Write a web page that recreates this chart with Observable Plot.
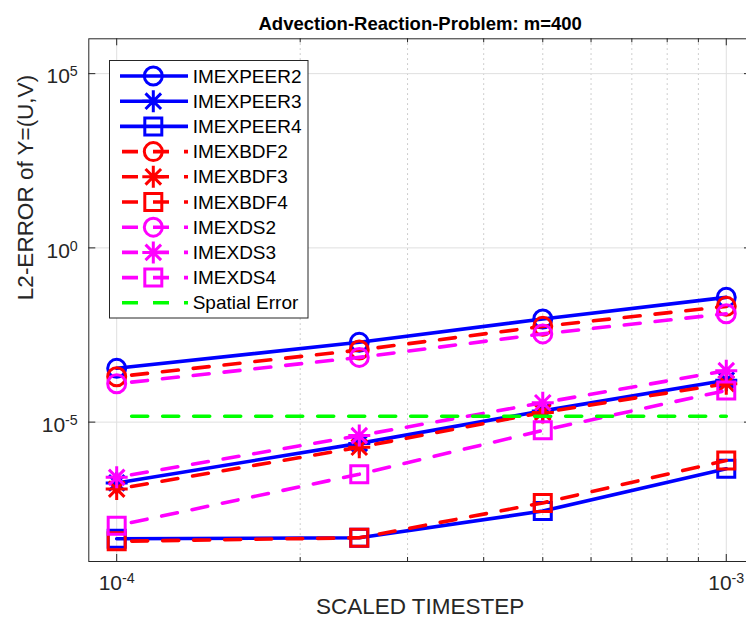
<!DOCTYPE html>
<html><head><meta charset="utf-8">
<script src="https://cdn.jsdelivr.net/npm/d3@7"></script>
<script src="https://cdn.jsdelivr.net/npm/@observablehq/plot@0.6"></script>
<style>
html,body{margin:0;padding:0;background:#fff;overflow:hidden;}
#chart{width:746px;height:628px;overflow:hidden;position:relative;}
#chart svg{overflow:hidden;}
</style></head><body><div id="chart"></div>
<script>
// ---- data ----
const timesteps = [1e-4, 2.5e-4, 5e-4, 1e-3];
const imexpeer2 = [3.5e-4, 1.95e-3, 9.1e-3, 3.8e-2];
const imexpeer3 = [1.8e-7, 2.45e-6, 2.1e-5, 1.6e-4];
const imexpeer4 = [4.5e-9, 4.8e-9, 2.8e-8, 4.6e-7];
const imexbdf2 = [2.0e-4, 1.17e-3, 5.6e-3, 2.1e-2];
const imexbdf3 = [1.2e-7, 1.9e-6, 1.9e-5, 1.26e-4];
const imexbdf4 = [3.8e-9, 4.8e-9, 4.8e-8, 7.9e-7];
const imexds2 = [1.26e-4, 7.2e-4, 3.4e-3, 1.29e-2];
const imexds3 = [2.6e-7, 4.1e-6, 3.6e-5, 3.0e-4];
const imexds4 = [1.07e-8, 3.2e-7, 5.8e-6, 8.1e-5];
const spatialError = 1.48e-5;
const seriesNames = ["IMEXPEER2","IMEXPEER3","IMEXPEER4","IMEXBDF2","IMEXBDF3","IMEXBDF4","IMEXDS2","IMEXDS3","IMEXDS4","Spatial Error"];
const xTickValues = [1e-4, 1e-3];
const xMinorTickValues = [2e-4, 3e-4, 4e-4, 5e-4, 6e-4, 7e-4, 8e-4, 9e-4];
const yTickValues = [1e-5, 1e0, 1e5];
const titleText = "Advection-Reaction-Problem: m=400";
const xLabelText = "SCALED TIMESTEP";
const yLabelText = "L2-ERROR of Y=(U,V)";
const xDomain = [9e-5, 1.1e-3];
const yDomain = [1e-9, 1e6];

// ---- styles ----
const square = {draw(ctx, size){const r=Math.sqrt(size/Math.PI), s=r*0.85; ctx.moveTo(-s,-s); ctx.lineTo(s,-s); ctx.lineTo(s,s); ctx.lineTo(-s,s); ctx.closePath();}};
const star = {draw(ctx, size){const r=Math.sqrt(size/Math.PI), d=r*0.7071; ctx.moveTo(-r,0); ctx.lineTo(r,0); ctx.moveTo(0,-r); ctx.lineTo(0,r); ctx.moveTo(-d,-d); ctx.lineTo(d,d); ctx.moveTo(-d,d); ctx.lineTo(d,-d);}};
const markerDefs = {circle: {symbol: "circle", r: 9}, star: {symbol: star, r: 11}, square: {symbol: square, r: 10}};
const BLUE="#0000ff", RED="#ff0000", MAG="#ff00ff", GREEN="#00ff00";
const seriesValues = [imexpeer2, imexpeer3, imexpeer4, imexbdf2, imexbdf3, imexbdf4, imexds2, imexds3, imexds4];
const seriesStyles = [
  {color: BLUE, dashed: false, marker: "circle"},
  {color: BLUE, dashed: false, marker: "star"},
  {color: BLUE, dashed: false, marker: "square"},
  {color: RED, dashed: true, marker: "circle"},
  {color: RED, dashed: true, marker: "star"},
  {color: RED, dashed: true, marker: "square"},
  {color: MAG, dashed: true, marker: "circle"},
  {color: MAG, dashed: true, marker: "star"},
  {color: MAG, dashed: true, marker: "square"},
  {color: GREEN, dashed: true, marker: null}
];
const DASH = "16,15";
const LW = 3.6;

const W = 746, H = 628;
const mL = 88.3, mT = 38.3, mB = 67, mR = -5;
const fh = H - mT - mB, fw = W - mL - mR;
const AX = "#262626";

const marks = [];
// grid
marks.push(Plot.ruleX(xMinorTickValues, {stroke: "#b8b8b8", strokeWidth: 0.9, strokeDasharray: "1.5,3.5"}));
marks.push(Plot.ruleX(xTickValues, {stroke: "#dfdfdf", strokeWidth: 1}));
marks.push(Plot.ruleY(yTickValues, {stroke: "#dfdfdf", strokeWidth: 1}));
// series
seriesValues.forEach((vals, i) => {
  const st = seriesStyles[i];
  const rows = timesteps.map((t, j) => ({x: t, y: vals[j]}));
  marks.push(Plot.line(rows, {x: "x", y: "y", stroke: st.color, strokeWidth: LW, strokeDasharray: st.dashed ? DASH : null, strokeDashoffset: st.dashed ? 16 : null}));
  const md = markerDefs[st.marker];
  marks.push(Plot.dot(rows, {x: "x", y: "y", symbol: md.symbol, r: md.r, stroke: st.color, strokeWidth: 3, fill: "none"}));
});
const spatialRows = [{x: timesteps[0], y: spatialError}, {x: timesteps[timesteps.length-1], y: spatialError}];
marks.push(Plot.line(spatialRows, {x: "x", y: "y", stroke: GREEN, strokeWidth: LW, strokeDasharray: DASH, strokeDashoffset: 16}));
// frame + ticks
marks.push(Plot.frame({stroke: AX, strokeWidth: 1}));
marks.push(Plot.ruleX(xTickValues, {stroke: AX, insetTop: fh - 7}));
marks.push(Plot.ruleX(xTickValues, {stroke: AX, insetBottom: fh - 7}));
marks.push(Plot.ruleX(xMinorTickValues, {stroke: AX, insetTop: fh - 4}));
marks.push(Plot.ruleX(xMinorTickValues, {stroke: AX, insetBottom: fh - 4}));
marks.push(Plot.ruleY(yTickValues, {stroke: AX, insetRight: fw - 7}));
marks.push(Plot.ruleY(yTickValues, {stroke: AX, insetLeft: fw - 7}));
// tick labels
const expLabel = d => "10^" + Math.round(Math.log10(d));
marks.push(Plot.text(xTickValues, {x: d => d, frameAnchor: "bottom", text: expLabel, dy: 28, fontSize: 21, fill: AX, textAnchor: "middle"}));
marks.push(Plot.text(yTickValues, {y: d => d, frameAnchor: "left", text: expLabel, dx: -11, dy: 3, fontSize: 21, fill: AX, textAnchor: "end"}));
// axis labels and title
marks.push(Plot.text([xLabelText], {frameAnchor: "bottom", text: d => d, dy: 52.5, fontSize: 22.5, fill: AX}));
marks.push(Plot.text([yLabelText], {frameAnchor: "left", text: d => d, dx: -63.3, rotate: -90, fontSize: 22.5, fill: AX}));
marks.push(Plot.text([titleText], {frameAnchor: "top", text: d => d, dy: -22, fontSize: 18.5, fontWeight: "bold", fill: "#000"}));

const chart = Plot.plot({
  width: W, height: H,
  marginLeft: mL, marginTop: mT, marginBottom: mB, marginRight: mR,
  x: {type: "log", domain: xDomain, axis: null},
  y: {type: "log", domain: yDomain, axis: null},
  style: {fontFamily: "'Liberation Sans', Arial, Helvetica, sans-serif", background: "white", overflow: "hidden", color: AX},
  marks
});
document.getElementById("chart").appendChild(chart);

// superscript exponents
d3.select(chart).selectAll("text").each(function(){
  const m = /^10\^(-?\d+)$/.exec(this.textContent);
  if (m) {
    const el = d3.select(this);
    el.text("10");
    el.append("tspan").attr("dy", -7).attr("font-size", "0.68em").text(m[1]);
  }
});

// legend
const lg = d3.select(chart).append("g").attr("font-family", "'Liberation Sans', Arial, sans-serif").attr("text-anchor", "start");
lg.append("rect").attr("x", 109.5).attr("y", 60.5).attr("width", 198.5).attr("height", 257.5)
  .attr("fill", "white").attr("stroke", AX).attr("stroke-width", 1);
seriesNames.forEach((name, i) => {
  const st = seriesStyles[i];
  const cy = 76 + i * 25.2;
  lg.append("line").attr("x1", st.dashed ? 122 : 120).attr("x2", 188).attr("y1", cy).attr("y2", cy)
    .attr("stroke", st.color).attr("stroke-width", LW).attr("stroke-dasharray", st.dashed ? DASH : null);
  if (st.marker) {
    const md = markerDefs[st.marker];
    const type = md.symbol === "circle" ? d3.symbolCircle : md.symbol;
    lg.append("path").attr("transform", `translate(153.3,${cy})`)
      .attr("d", d3.symbol(type, Math.PI * md.r * md.r)())
      .attr("fill", "none").attr("stroke", st.color).attr("stroke-width", 3);
  }
  lg.append("text").attr("x", 192.7).attr("y", cy).attr("dy", "0.35em").attr("text-anchor", "start")
    .attr("font-size", 19).attr("fill", "#000").text(name);
});
</script></body></html>
